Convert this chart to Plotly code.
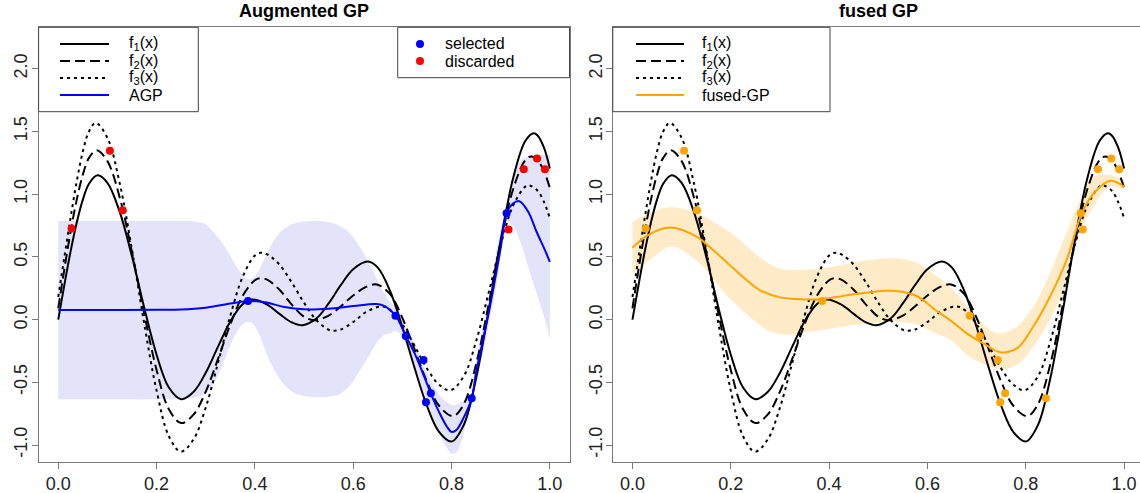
import plotly.graph_objects as go

# ---------------- data ----------------
f1_x = [0, 0.0125, 0.025, 0.0375, 0.05, 0.0625, 0.08, 0.1, 0.125, 0.15, 0.175, 0.2, 0.225, 0.25,
        0.275, 0.3, 0.325, 0.35, 0.375, 0.395, 0.425, 0.45, 0.475, 0.497, 0.525, 0.55, 0.575, 0.6,
        0.63, 0.65, 0.675, 0.7, 0.725, 0.75, 0.775, 0.8, 0.825, 0.85, 0.875, 0.9, 0.925, 0.95,
        0.967, 0.975, 0.9875, 1.0]
f1_y = [0, 0.279, 0.542, 0.772, 0.956, 1.083, 1.15, 1.090, 0.859, 0.502, 0.093, -0.280, -0.542, -0.635,
        -0.578, -0.424, -0.216, -0.015, 0.123, 0.16, 0.119, 0.045, -0.022, -0.045, 0.008, 0.129, 0.276, 0.401,
        0.462, 0.414, 0.228, -0.059, -0.387, -0.687, -0.897, -0.972, -0.839, -0.467, 0.061, 0.632, 1.122, 1.423,
        1.485, 1.468, 1.377, 1.205]

f2_x = [0, 0.0125, 0.025, 0.0375, 0.05, 0.0625, 0.078, 0.1, 0.125, 0.15, 0.175, 0.2, 0.225, 0.25,
        0.275, 0.3, 0.325, 0.35, 0.375, 0.4, 0.412, 0.425, 0.45, 0.475, 0.5, 0.52, 0.55, 0.575, 0.6,
        0.625, 0.648, 0.675, 0.7, 0.725, 0.75, 0.775, 0.803, 0.825, 0.85, 0.875, 0.9, 0.925, 0.95,
        0.962, 0.975, 0.9875, 1.0]
f2_y = [0.09, 0.404, 0.698, 0.954, 1.155, 1.289, 1.35, 1.263, 0.973, 0.537, 0.045, -0.402, -0.715, -0.825,
        -0.758, -0.574, -0.314, -0.039, 0.188, 0.314, 0.33, 0.318, 0.238, 0.119, 0.023, -0.005, 0.032, 0.106, 0.192,
        0.258, 0.28, 0.203, 0.014, -0.240, -0.495, -0.689, -0.77, -0.674, -0.355, 0.112, 0.616, 1.035, 1.271,
        1.30, 1.271, 1.187, 1.05]

f3_x = [0, 0.0125, 0.025, 0.0375, 0.05, 0.0625, 0.0763, 0.1, 0.125, 0.15, 0.175, 0.2, 0.225, 0.249,
        0.275, 0.3, 0.325, 0.35, 0.375, 0.4, 0.412, 0.425, 0.45, 0.475, 0.5, 0.525, 0.55, 0.561,
        0.575, 0.6, 0.625, 0.657, 0.675, 0.7, 0.725, 0.75, 0.775, 0.798, 0.825, 0.85, 0.875, 0.9,
        0.925, 0.95, 0.958, 0.975, 0.9875, 1.0]
f3_y = [0.18, 0.50, 0.81, 1.10, 1.34, 1.50, 1.568, 1.448, 1.087, 0.556, -0.035, -0.566, -0.930, -1.053,
        -0.956, -0.701, -0.344, 0.031, 0.339, 0.511, 0.532, 0.520, 0.438, 0.296, 0.134, -0.004, -0.081, -0.089,
        -0.079, -0.020, 0.057, 0.105, 0.078, -0.037, -0.210, -0.390, -0.520, -0.563, -0.451, -0.173, 0.206, 0.595,
        0.906, 1.060, 1.07, 1.027, 0.942, 0.81]

agp_x = [0, 0.1, 0.2, 0.25, 0.3, 0.35, 0.388, 0.42, 0.46, 0.5, 0.55, 0.6, 0.648,
         0.665, 0.675, 0.687, 0.707, 0.725, 0.745, 0.76, 0.775, 0.79, 0.8,
         0.81, 0.825, 0.841, 0.85, 0.875, 0.9, 0.912, 0.925, 0.938, 0.956, 0.973, 0.99, 1.0]
agp_y = [0.077, 0.077, 0.078, 0.080, 0.095, 0.128, 0.148, 0.138, 0.10, 0.082, 0.087, 0.108, 0.124,
         0.105, 0.075, 0.03, -0.13, -0.27, -0.46, -0.61, -0.74, -0.85, -0.895,
         -0.88, -0.78, -0.63, -0.42, 0.04, 0.57, 0.846, 0.925, 0.944, 0.86, 0.70, 0.554, 0.46]

agp_band_x = [0, 0.1, 0.2, 0.25, 0.28, 0.3, 0.315, 0.33, 0.345, 0.36, 0.37, 0.38, 0.388, 0.395, 0.405,
              0.415, 0.43, 0.45, 0.47, 0.49, 0.51, 0.53, 0.55, 0.57, 0.59, 0.61, 0.63, 0.645, 0.66, 0.675,
              0.687, 0.707, 0.725, 0.745, 0.76, 0.775, 0.79, 0.8, 0.81, 0.82, 0.83, 0.841, 0.85, 0.875,
              0.895, 0.912, 0.926, 0.939, 0.956, 0.973, 0.99, 1.0]
agp_lower = [-0.636, -0.636, -0.636, -0.634, -0.62, -0.59, -0.52, -0.40, -0.25, -0.12, -0.06, -0.025, -0.017,
             -0.03, -0.09, -0.18, -0.33, -0.47, -0.56, -0.60, -0.615, -0.62, -0.615, -0.60, -0.54, -0.43, -0.30,
             -0.20, -0.13, -0.11, -0.09, -0.20, -0.36, -0.60, -0.76, -0.90, -1.02, -1.07, -1.06, -0.97, -0.82,
             -0.67, -0.52, -0.05, 0.36, 0.78, 0.74, 0.63, 0.42, 0.21, 0.0, -0.16]
agp_upper = [0.785, 0.785, 0.785, 0.785, 0.78, 0.76, 0.70, 0.63, 0.54, 0.44, 0.38, 0.335, 0.32, 0.33, 0.37,
             0.45, 0.57, 0.69, 0.75, 0.775, 0.785, 0.785, 0.775, 0.75, 0.70, 0.60, 0.47, 0.35, 0.23, 0.14,
             0.10, -0.07, -0.19, -0.38, -0.50, -0.60, -0.66, -0.68, -0.68, -0.66, -0.63, -0.59, -0.33, 0.13,
             0.63, 0.90, 1.11, 1.257, 1.30, 1.31, 1.31, 1.31]

fgp_x = [0, 0.03, 0.0763, 0.131, 0.164, 0.198, 0.232, 0.259, 0.30, 0.331, 0.371, 0.40, 0.426, 0.473,
         0.514, 0.548, 0.581, 0.616, 0.646, 0.68, 0.714, 0.748, 0.782, 0.815, 0.849, 0.883, 0.914,
         0.938, 0.972, 1.0]
fgp_y = [0.572, 0.67, 0.734, 0.66, 0.554, 0.434, 0.315, 0.235, 0.177, 0.165, 0.16, 0.17, 0.187, 0.213,
         0.23, 0.222, 0.182, 0.076, -0.004, -0.11, -0.19, -0.26, -0.23, -0.057, 0.18, 0.474, 0.846,
         1.005, 1.106, 1.06]

fgp_band_x = [0, 0.04, 0.08, 0.13, 0.2, 0.29, 0.358, 0.426, 0.48, 0.541, 0.581, 0.616, 0.646, 0.687,
              0.728, 0.748, 0.782, 0.815, 0.849, 0.883, 0.91, 0.938, 0.972, 1.0]
fgp_upper = [0.78, 0.86, 0.895, 0.85, 0.69, 0.42, 0.40, 0.434, 0.474, 0.487, 0.448, 0.355, 0.26, 0.076,
             -0.084, -0.11, -0.057, 0.10, 0.37, 0.69, 0.95, 1.14, 1.15, 1.11]
fgp_lower = [0.36, 0.49, 0.58, 0.47, 0.16, -0.11, -0.097, -0.057, -0.03, -0.017, -0.044, -0.11, -0.16,
             -0.30, -0.375, -0.40, -0.36, -0.216, 0.0, 0.29, 0.70, 0.90, 1.06, 1.03]

sel_x = [0.386, 0.686, 0.707, 0.743, 0.748, 0.758, 0.841, 0.912]
sel_y = [0.148, 0.030, -0.130, -0.323, -0.660, -0.588, -0.628, 0.848]
disc_x = [0.027, 0.105, 0.131, 0.916, 0.947, 0.974, 0.990]
disc_y = [0.726, 1.345, 0.872, 0.719, 1.199, 1.284, 1.199]

x_ticks = [0.0, 0.2, 0.4, 0.6, 0.8, 1.0]
y_ticks = [-1.0, -0.5, 0.0, 0.5, 1.0, 1.5, 2.0]

# ---------------- styling ----------------
W, H = 1140, 493
FONT = "Liberation Sans, Arial, Helvetica, sans-serif"
BLUE = "#0000FF"
RED = "#FF0000"
ORANGE = "#FFA500"
BAND_BLUE = "#E3E3FA"
BAND_ORANGE = "#FFEBC8"
AXCOL = "#7a7a7a"
DASH = "10px,5px"
DOT = "3px,4px"


def px(p):
    return p / W


def py(p):
    return 1 - p / H


fig = go.Figure()


def add_truth(xa, ya):
    fig.add_trace(go.Scatter(x=f1_x, y=f1_y, mode="lines", line=dict(color="black", width=2, shape="spline"),
                             xaxis=xa, yaxis=ya, hoverinfo="skip"))
    fig.add_trace(go.Scatter(x=f2_x, y=f2_y, mode="lines",
                             line=dict(color="black", width=2, dash=DASH, shape="spline"),
                             xaxis=xa, yaxis=ya, hoverinfo="skip"))
    fig.add_trace(go.Scatter(x=f3_x, y=f3_y, mode="lines",
                             line=dict(color="black", width=2, dash=DOT, shape="spline"),
                             xaxis=xa, yaxis=ya, hoverinfo="skip"))


# ---- left panel: Augmented GP
fig.add_trace(go.Scatter(x=agp_band_x, y=agp_lower, mode="lines", line=dict(width=0, shape="spline"),
                         xaxis="x", yaxis="y", hoverinfo="skip"))
fig.add_trace(go.Scatter(x=agp_band_x, y=agp_upper, mode="lines", line=dict(width=0, shape="spline"),
                         fill="tonexty", fillcolor=BAND_BLUE, xaxis="x", yaxis="y", hoverinfo="skip"))
add_truth("x", "y")
fig.add_trace(go.Scatter(x=agp_x, y=agp_y, mode="lines", line=dict(color=BLUE, width=2, shape="spline"),
                         xaxis="x", yaxis="y"))
fig.add_trace(go.Scatter(x=sel_x, y=sel_y, mode="markers", marker=dict(color=BLUE, size=8),
                         xaxis="x", yaxis="y"))
fig.add_trace(go.Scatter(x=disc_x, y=disc_y, mode="markers", marker=dict(color=RED, size=8),
                         xaxis="x", yaxis="y"))

# ---- right panel: fused GP
fig.add_trace(go.Scatter(x=fgp_band_x, y=fgp_lower, mode="lines", line=dict(width=0, shape="spline"),
                         xaxis="x2", yaxis="y2", hoverinfo="skip"))
fig.add_trace(go.Scatter(x=fgp_band_x, y=fgp_upper, mode="lines", line=dict(width=0, shape="spline"),
                         fill="tonexty", fillcolor=BAND_ORANGE, xaxis="x2", yaxis="y2", hoverinfo="skip"))
add_truth("x2", "y2")
fig.add_trace(go.Scatter(x=fgp_x, y=fgp_y, mode="lines", line=dict(color=ORANGE, width=2, shape="spline"),
                         xaxis="x2", yaxis="y2"))
fig.add_trace(go.Scatter(x=sel_x + disc_x, y=sel_y + disc_y, mode="markers",
                         marker=dict(color=ORANGE, size=8), xaxis="x2", yaxis="y2"))

# ---------------- axes ----------------
Y_DOM = [py(461.7), py(27.3)]
Y_RANGE = [-1.133, 2.33]
TICKFONT = dict(family=FONT, size=18, color="#222")

common_x = dict(tickvals=x_ticks, ticktext=[f"{v:.1f}" for v in x_ticks], ticks="outside", ticklen=6,
                tickcolor=AXCOL, showgrid=False, zeroline=False, showline=True, linecolor=AXCOL,
                linewidth=1, tickfont=TICKFONT, automargin=False,
                ticklabelstandoff=0, fixedrange=True)
common_y = dict(tickvals=y_ticks, ticktext=[f"{v:.1f}" for v in y_ticks], ticks="outside", ticklen=6,
                tickcolor=AXCOL, showgrid=False, zeroline=False, showline=True, linecolor=AXCOL,
                linewidth=1, tickfont=TICKFONT, automargin=False,
                tickangle=-90, ticklabelstandoff=-3, range=Y_RANGE, domain=Y_DOM, fixedrange=True)

fig.update_layout(
    width=W, height=H, margin=dict(l=0, r=0, t=0, b=0),
    paper_bgcolor="white", plot_bgcolor="white", showlegend=False,
    xaxis=dict(common_x, domain=[px(38.6), px(569.5)], range=[-0.04, 1.04], mirror=True, anchor="y"),
    yaxis=dict(common_y, mirror=True, anchor="x"),
    xaxis2=dict(common_x, domain=[px(612.8), 1.0], range=[-0.04, 1.0324], mirror=True, anchor="y2"),
    yaxis2=dict(common_y, mirror=False, anchor="x2"),
)

# ---------------- titles ----------------
ann = []
TITLEFONT = dict(family=FONT, size=18, color="black")
ann.append(dict(text="<b>Augmented GP</b>", x=px((38.6 + 569.5) / 2), y=py(11), xref="paper", yref="paper",
                showarrow=False, xanchor="center", yanchor="middle", font=TITLEFONT))
ann.append(dict(text="<b>fused GP</b>", x=px((612.8 + 1145) / 2), y=py(11), xref="paper", yref="paper",
                showarrow=False, xanchor="center", yanchor="middle", font=TITLEFONT))

# ---------------- manual legends ----------------
shapes = []
LEGCOL = "#444"


def box(x0, y0, x1, y1):
    shapes.append(dict(type="rect", xref="paper", yref="paper", x0=px(x0), x1=px(x1), y0=py(y1), y1=py(y0),
                       line=dict(color=LEGCOL, width=1), fillcolor="white", layer="above"))


def leg_line(x0, x1, yy, color, dash):
    shapes.append(dict(type="line", xref="paper", yref="paper", x0=px(x0), x1=px(x1), y0=py(yy), y1=py(yy),
                       line=dict(color=color, width=2, dash=dash), layer="above"))


def leg_text(x, yy, text):
    ann.append(dict(text=text, x=px(x), y=py(yy), xref="paper", yref="paper", showarrow=False,
                    xanchor="left", yanchor="middle", font=dict(family=FONT, size=16, color="black")))


rows = [44, 61, 78, 95]
line_labels = ["f<sub>1</sub>(x)", "f<sub>2</sub>(x)", "f<sub>3</sub>(x)"]
dashes = ["solid", DASH, DOT]

# left line legend
box(38.6, 27.3, 198.3, 111.7)
for r, lab, d in zip(rows[:3], line_labels, dashes):
    leg_line(60, 109, r, "black", d)
    leg_text(127, r, lab)
leg_line(60, 109, rows[3], BLUE, "solid")
leg_text(127, rows[3], "AGP")

# left point legend
box(397.7, 27.3, 569.5, 77.7)
ann_pts = [(420, rows[0], BLUE, "selected"), (420, rows[1], RED, "discarded")]

# right line legend
box(612.8, 27.3, 830, 111.7)
for r, lab, d in zip(rows[:3], line_labels, dashes):
    leg_line(636, 684, r, "black", d)
    leg_text(700, r, lab)
leg_line(636, 684, rows[3], ORANGE, "solid")
leg_text(700, rows[3], "fused-GP")

for (xx, r, col, lab) in ann_pts:
    shapes.append(dict(type="circle", xref="paper", yref="paper", x0=px(xx - 4), x1=px(xx + 4),
                       y0=py(r + 4), y1=py(r - 4), fillcolor=col, line=dict(width=0), layer="above"))
    leg_text(443, r, lab)

fig.update_layout(shapes=shapes, annotations=ann)

fig.write_html("out.html")
